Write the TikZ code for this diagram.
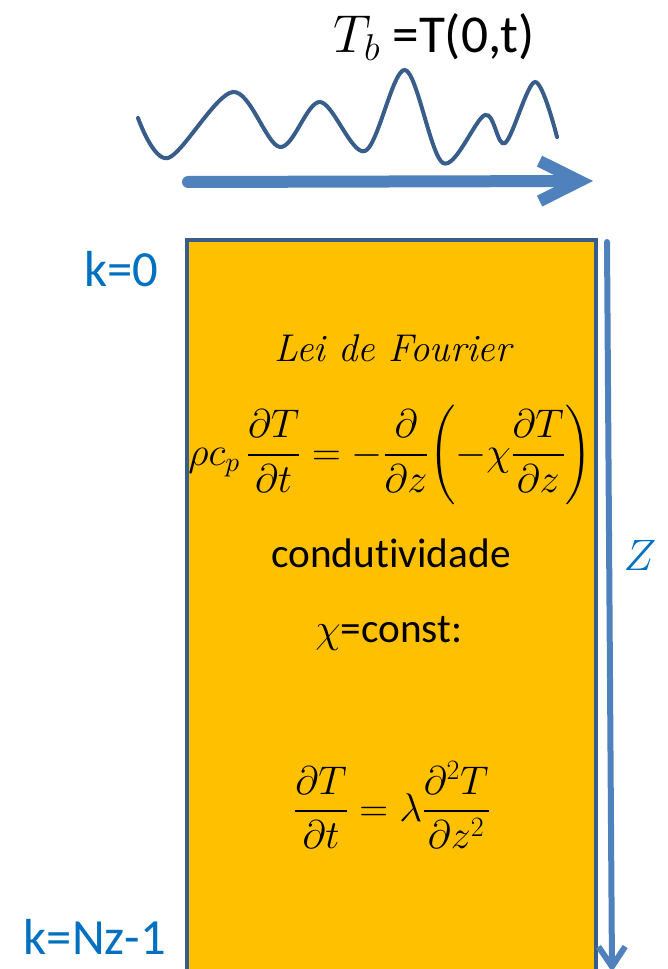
\RequirePackage{fix-cm}
\documentclass[tikz,border=0pt]{standalone}
\usepackage{amsmath}
\usepackage{fontspec}
\newfontfamily\calibri[Ligatures=NoCommon]{Carlito}
\usetikzlibrary{arrows.meta}

\tikzset{every picture/.style={line width=0.75pt}}
\tikzset{
  blueline/.style={color={rgb, 255:red, 79; green, 129; blue, 189 }, line cap=round},
  waveline/.style={color={rgb, 255:red, 56; green, 93; blue, 138 }, line width=3pt, line cap=round},
  klabel/.style={inner sep=0.75pt, font=\calibri\fontsize{38}{44}\selectfont, color={rgb, 255:red, 0; green, 112; blue, 192 }},
  boxtext/.style={inner sep=0.75pt, font=\calibri\fontsize{31}{36}\selectfont},
  eqtext/.style={inner sep=0.75pt, font=\fontsize{30}{36}\selectfont},
}

\begin{document}
\begin{tikzpicture}[x=0.75pt,y=0.75pt,yscale=-1,xscale=1]
\useasboundingbox (0,0) rectangle (667,969);

%Rectangle
\draw  [color={rgb, 255:red, 56; green, 93; blue, 138 }, fill={rgb, 255:red, 255; green, 192; blue, 0 }, line width=3pt] (187,240) rectangle (596,1000) ;

%Wave
\draw  [waveline] plot [smooth, tension=0.55] coordinates {(138,118) (168,158) (233,92) (280,147) (320,102) (365,151) (405,70) (443,163) (485,115) (505,143) (535,82) (557,137)} ;

%Arrows
\coordinate (tstart) at (188,182);
\coordinate (tend) at (593,181);
\coordinate (zstart) at (607,242);
\coordinate (zend) at (612,972);
\draw  [blueline, line width=9pt, -{Straight Barb[length=30pt, width=30pt]}] (tstart) -- (tend) ;
\draw  [blueline, line width=4.5pt, -{Straight Barb[length=15pt, width=20pt]}] (zstart) -- (zend) ;

% Text Node
\node (tb) [inner sep=0.75pt, font=\calibri\fontsize{40}{46}\selectfont] at (434,37) {$T_b$ =T(0,t)};
% Text Node
\node (lei) [inner sep=0.75pt, font=\fontsize{29}{34}\selectfont] at (394,348) {\textit{Lei de Fourier}};
% Text Node
\node (fourier) [eqtext] at (390,455) {$\displaystyle \rho c_p\,\frac{\partial T}{\partial t}=-\frac{\partial}{\partial z}\biggl(-\chi\frac{\partial T}{\partial z}\biggr)$};
% Text Node
\node (cond) [boxtext] at (391,553) {condutividade};
% Text Node
\node (chi) [boxtext] at (389,633) {$\chi$=const:};
% Text Node
\node (heat) [eqtext] at (392,805) {$\displaystyle \frac{\partial T}{\partial t}=\lambda\frac{\partial^2 T}{\partial z^2}$};
% Text Node
\node (zlabel) [inner sep=0.75pt, font=\fontsize{33}{38}\selectfont, color={rgb, 255:red, 0; green, 112; blue, 192 }] at (640,555) {$Z$};
% Text Node
\node (ktop) [klabel] at (121,269) {k=0};
% Text Node
\node (kbot) [klabel] at (95,937) {k=Nz-1};

\end{tikzpicture}
\end{document}
